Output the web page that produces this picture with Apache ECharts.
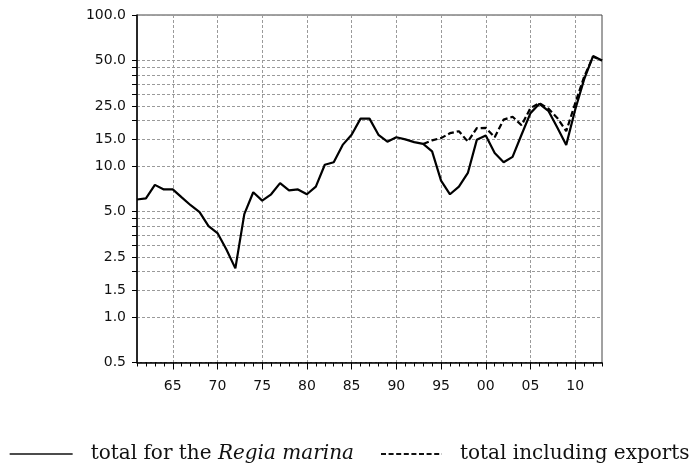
<!DOCTYPE html>
<html>
<head>
<meta charset="utf-8">
<script src="https://cdn.jsdelivr.net/npm/echarts@6/dist/echarts.min.js"></script>
<style>
  html, body { margin: 0; padding: 0; background: #fff; }
  #chart { width: 690px; height: 470px; }
</style>
</head>
<body>
<div id="chart"></div>
<script>
// Annual observations, 1961-2013
const years = [
  1961, 1962, 1963, 1964, 1965, 1966, 1967, 1968, 1969, 1970,
  1971, 1972, 1973, 1974, 1975, 1976, 1977, 1978, 1979, 1980,
  1981, 1982, 1983, 1984, 1985, 1986, 1987, 1988, 1989, 1990,
  1991, 1992, 1993, 1994, 1995, 1996, 1997, 1998, 1999, 2000,
  2001, 2002, 2003, 2004, 2005, 2006, 2007, 2008, 2009, 2010,
  2011, 2012, 2013
];

// Total for the Regia marina
const regiaMarina = [
  6.0, 6.1, 7.5, 7.0, 7.0, 6.2, 5.5, 4.95, 4.0, 3.6,
  2.8, 2.1, 4.8, 6.7, 5.9, 6.5, 7.7, 6.9, 7.0, 6.5,
  7.3, 10.2, 10.6, 13.8, 16.1, 20.6, 20.6, 16.1, 14.5, 15.5,
  15.0, 14.4, 14.0, 12.5, 8.0, 6.5, 7.3, 9.0, 14.9, 15.9,
  12.2, 10.6, 11.5, 16.1, 22.4, 25.8, 23.2, 18.0, 13.8, 23.6,
  37.5, 53.5, 50.0
];

// Total including exports (series starts in 1993)
const exportsStartYear = 1993;
const totalWithExports = [
  14.0, 14.8, 15.3, 16.5, 17.0, 14.5, 17.8, 17.9,
  15.5, 20.3, 21.2, 18.6, 24.2, 26.1, 24.0, 20.8, 17.0, 26.0,
  39.0, 53.0, 50.0
];

// Log-axis marks
const yLabelValues = [0.5, 1.0, 1.5, 2.5, 5.0, 10.0, 15.0, 25.0, 50.0, 100.0];
const yGridValues = [0.5, 1, 1.5, 2, 2.5, 3, 3.5, 4, 4.5, 5, 10, 15, 20, 25, 30, 35, 40, 45, 50, 100];

const NAME_A = 'total for the Regia marina';
const NAME_B = 'total including exports';

const exportsData = years.map(y =>
  y < exportsStartYear ? null : totalWithExports[y - exportsStartYear]);

const isMajorYear = (i) => years[i] % 5 === 0;
const gridDash = { color: '#9a9a9a', width: 1, type: [3, 2] };
const tickFont = { fontFamily: 'DejaVu Sans', fontSize: 14, color: '#111' };
const legendRich = {
  sp: { width: 13 },
  n: { fontFamily: 'DejaVu Serif', fontSize: 20, color: '#111' },
  i: { fontFamily: 'DejaVu Serif', fontSize: 20, fontStyle: 'italic', color: '#111' }
};

const chart = echarts.init(document.getElementById('chart'), null, { renderer: 'canvas' });

chart.setOption({
  animation: false,
  backgroundColor: '#fff',
  color: ['#000', '#000'],
  grid: {
    left: 137, top: 15, width: 465, height: 347.5,
    show: true, borderColor: '#444', borderWidth: 1, backgroundColor: 'transparent'
  },
  legend: [
    {
      data: [NAME_A], left: 9, top: 444, padding: 0,
      itemWidth: 63, itemHeight: 14,
      itemStyle: { opacity: 0 },
      lineStyle: { width: 1.3, color: '#111' },
      formatter: () => '{sp|}{n|total for the }{i|Regia marina}',
      textStyle: { rich: legendRich }
    },
    {
      data: [NAME_B], left: 380, top: 444, padding: 0,
      itemWidth: 61, itemHeight: 14,
      itemStyle: { opacity: 0 },
      lineStyle: { width: 2, color: '#111', type: [5, 2.6] },
      formatter: () => '{sp|}{n|total including exports}',
      textStyle: { rich: legendRich }
    }
  ],
  xAxis: [
    {
      type: 'category', data: years, boundaryGap: false,
      axisLine: { lineStyle: { color: '#000', width: 1.5 } },
      axisTick: { show: true, interval: 0, length: 4, lineStyle: { color: '#000' } },
      axisLabel: { show: false },
      splitLine: { show: false }
    },
    {
      type: 'category', data: years, boundaryGap: false, position: 'bottom',
      axisLine: { show: false },
      axisTick: { show: true, interval: isMajorYear, length: 7, lineStyle: { color: '#000' } },
      axisLabel: {
        interval: isMajorYear, margin: 17, ...tickFont,
        formatter: v => String(v).slice(2)
      },
      splitLine: { show: true, interval: isMajorYear, lineStyle: gridDash }
    }
  ],
  yAxis: {
    type: 'log', logBase: 10, min: 0.5, max: 100,
    axisLine: { show: true, lineStyle: { color: '#000', width: 1.5 } },
    axisTick: { show: true, length: 5, customValues: yGridValues, lineStyle: { color: '#000' } },
    axisLabel: {
      customValues: yLabelValues, margin: 11, ...tickFont,
      formatter: v => Number(v).toFixed(1)
    },
    splitLine: { show: true, lineStyle: gridDash }
  },
  series: [
    {
      name: NAME_B, type: 'line', data: exportsData, xAxisIndex: 0,
      symbol: 'none', connectNulls: false,
      itemStyle: { color: '#000' },
      lineStyle: { color: '#000', width: 2.2, type: [6, 3] }
    },
    {
      name: NAME_A, type: 'line', data: regiaMarina, xAxisIndex: 0,
      symbol: 'none',
      itemStyle: { color: '#000' },
      lineStyle: { color: '#000', width: 2.2 }
    }
  ]
});
</script>
</body>
</html>
